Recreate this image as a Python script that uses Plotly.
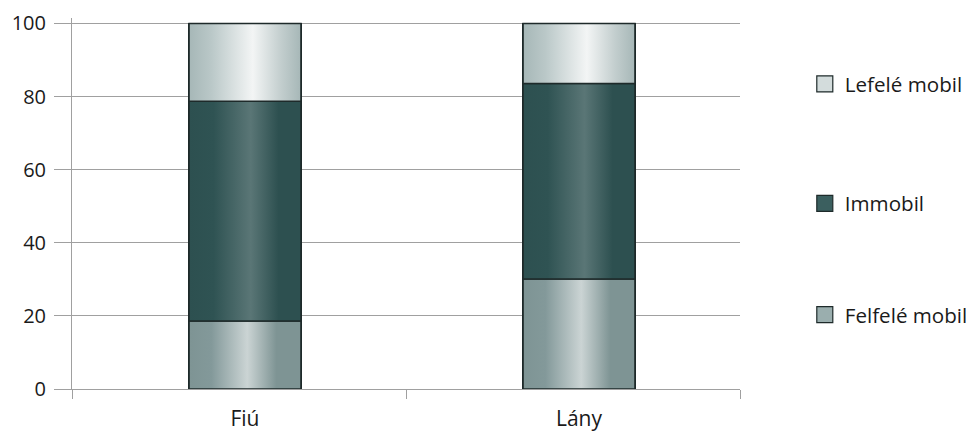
import plotly.graph_objects as go

categories = ["Fiú", "Lány"]
series_names = ["Felfelé mobil", "Immobil", "Lefelé mobil"]
felfele = [18.6, 30.1]
immobil = [60.1, 53.5]
lefele = [21.3, 16.4]
y_ticks = [0, 20, 40, 60, 80, 100]

series_values = [felfele, immobil, lefele]
solid_colors = ["#9aaeae", "#3b5f5f", "#d3dcdc"]
gradients = [
    [[0, "#7e9494"], [0.2, "#83999a"], [0.52, "#cbd4d4"], [0.78, "#7e9494"], [1, "#7e9494"]],
    [[0, "#2d5050"], [0.22, "#2f5353"], [0.55, "#5a7676"], [0.8, "#2d5050"], [1, "#2d5050"]],
    [[0, "#a6b7b7"], [0.2, "#bac8c8"], [0.57, "#f3f5f5"], [0.82, "#c3cece"], [1, "#a6b7b7"]],
]
legend_ids = ["legend3", "legend2", "legend"]
BAR_W = 0.335
BAR_SHIFT = 0.018
EDGE = "#1e2a2a"

fig = go.Figure()

# stacked bars (data marks)
for name, vals, col in zip(series_names, series_values, solid_colors):
    fig.add_trace(go.Bar(
        x=categories, y=vals, name=name, width=BAR_W,
        offset=-BAR_W / 2 + BAR_SHIFT,
        marker=dict(color=col, line=dict(color=EDGE, width=1.5)),
        showlegend=False, hoverinfo="x+y+name",
    ))

# gradient overlay for each stacked segment, computed from the same data
bases = [0.0 for _ in categories]
for name, vals, grad in zip(series_names, series_values, gradients):
    for i, v in enumerate(vals):
        b = bases[i]
        t = b + v
        x0 = i - BAR_W / 2 + BAR_SHIFT
        x1 = x0 + BAR_W
        fig.add_trace(go.Scatter(
            x=[x0, x1, x1, x0, x0], y=[b, b, t, t, b],
            xaxis="x2", yaxis="y", mode="lines", fill="toself",
            fillgradient=dict(type="horizontal", colorscale=grad),
            line=dict(color=EDGE, width=1.5),
            showlegend=False, hoverinfo="skip",
        ))
        bases[i] = t

# legend entries
for name, col, lg in zip(series_names, solid_colors, legend_ids):
    fig.add_trace(go.Scatter(
        x=[None], y=[None], name=name, mode="markers", legend=lg,
        marker=dict(symbol="square", size=24, color=col,
                    line=dict(color=EDGE, width=1.2)),
    ))

font_family = "Open Sans, Noto Sans, sans-serif"
leg_common = dict(xanchor="left", yanchor="middle", font=dict(size=20.6),
                  bgcolor="rgba(0,0,0,0)", itemsizing="trace")
fig.update_layout(
    width=974, height=433,
    margin=dict(l=64, r=242, t=10, b=52, autoexpand=False),
    barmode="stack",
    paper_bgcolor="white", plot_bgcolor="white",
    font=dict(family=font_family, size=20, color="#1a1a1a"),
    xaxis=dict(
        type="category", range=[-0.5, 1.5], tickson="boundaries",
        ticks="outside", ticklen=9, tickcolor="#a0a0a0", tickwidth=1,
        showline=True, linecolor="#a0a0a0", linewidth=1,
        showgrid=False, tickfont=dict(size=21), automargin=False,
        ticklabelshift=6, ticklabelstandoff=11,
    ),
    xaxis2=dict(overlaying="x", range=[-0.5, 1.5], visible=False, anchor="y"),
    yaxis=dict(
        range=[0, 101.5], tickvals=y_ticks,
        ticks="outside", ticklen=17, tickcolor="#a0a0a0", tickwidth=1,
        showline=True, linecolor="#a0a0a0", linewidth=1,
        showgrid=True, gridcolor="#a0a0a0", gridwidth=1, automargin=False,
        zeroline=False, tickfont=dict(size=20), ticklabelstandoff=4,
    ),
    legend=dict(x=1.097, y=0.822, **leg_common),
    legend2=dict(x=1.097, y=0.50, **leg_common),
    legend3=dict(x=1.097, y=0.2, **leg_common),
)

fig.write_html("out.html")
